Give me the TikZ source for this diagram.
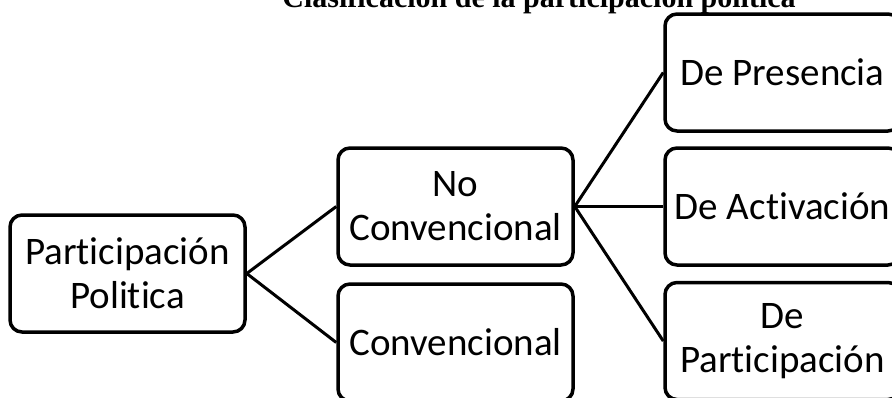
\documentclass[tikz,border=0pt]{standalone}
\usepackage{fontspec}
\setmainfont[Ligatures=NoCommon]{Carlito}
\newfontfamily\titlefont{Liberation Serif}
\usetikzlibrary{positioning}
\begin{document}
\begin{tikzpicture}[x=1pt,y=-1pt]
			\tikzstyle{box}=[draw=black, line width=3.5pt, rounded corners=12pt, minimum width=235pt, minimum height=117pt, align=center, inner sep=0pt, font=\fontsize{39}{44}\selectfont]
			\tikzstyle{branch}=[black, line width=3pt]
			\useasboundingbox (0,0) rectangle (892,397);
			\clip (0,0) rectangle (892,397);
			\node [anchor=base, font=\titlefont\bfseries\fontsize{30}{34}\selectfont] (title) at (539,7) {Clasificación de la participación política};
			\node [box] (part) at (127.5,273.5) {Participación\\Politica};
			\node [box] (noconv) at (455.5,206.5) {No\\Convencional};
			\node [box] (conv) at (455.5,342.5) {Convencional};
			\node [box] (presencia) at (782.5,72.5) {De Presencia};
			\node [box] (activacion) at (782.5,206.5) {De Activación};
			\node [box] (participa) at (782.5,341) {De\\Participación};
			\draw [branch] (part.east) -- (noconv.west);
			\draw [branch] (part.east) -- (conv.west);
			\draw [branch] (noconv.east) -- (presencia.west);
			\draw [branch] (noconv.east) -- (activacion.west);
			\draw [branch] (noconv.east) -- (participa.west);
\end{tikzpicture}
\end{document}
